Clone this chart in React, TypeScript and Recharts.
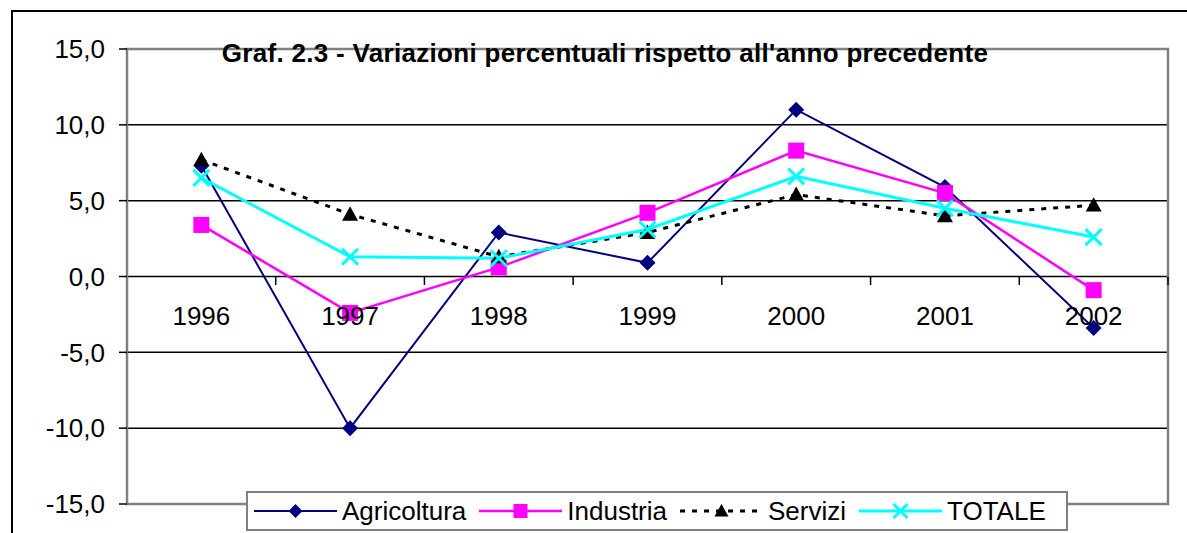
import React from 'react'
import { LineChart, Line, XAxis, YAxis, CartesianGrid, ReferenceArea } from 'recharts'

const years = ['1996', '1997', '1998', '1999', '2000', '2001', '2002']
const agricoltura = [7.3, -10.0, 2.9, 0.9, 11.0, 5.9, -3.4]
const industria = [3.4, -2.4, 0.6, 4.2, 8.3, 5.5, -0.9]
const servizi = [7.7, 4.1, 1.3, 2.9, 5.4, 4.0, 4.7]
const totale = [6.5, 1.3, 1.2, 3.1, 6.6, 4.5, 2.6]
const yTicks = [-15, -10, -5, 0, 5, 10, 15]

const W = 1187
const H = 533
const M = { top: 49, right: 19, bottom: 28, left: 17 }
const Y_AXIS_W = 110
const PLOT_W = W - M.left - M.right - Y_AXIS_W
const PLOT_H = H - M.top - M.bottom
const Y_MIN = -15
const Y_MAX = 15
const zeroY = M.top + (PLOT_H * (Y_MAX - 0)) / (Y_MAX - Y_MIN)
const band = PLOT_W / years.length

const FONT = '"Liberation Sans", Arial, sans-serif'

const data = years.map((y, i) => ({
  year: y,
  agricoltura: agricoltura[i],
  industria: industria[i],
  servizi: servizi[i],
  totale: totale[i],
}))

const fmt = (v: number) => v.toFixed(1).replace('.', ',')

const Diamond = ({ cx, cy, s = 8 }: any) => (
  <path d={`M${cx},${cy - s} L${cx + s},${cy} L${cx},${cy + s} L${cx - s},${cy} Z`} fill="#000080" />
)
const Square = ({ cx, cy, s = 8 }: any) => (
  <rect x={cx - s} y={cy - s} width={s * 2} height={s * 2} fill="#FF00FF" />
)
const Triangle = ({ cx, cy, s = 8 }: any) => (
  <path d={`M${cx},${cy - s} L${cx + s},${cy + s * 0.8} L${cx - s},${cy + s * 0.8} Z`} fill="#000" />
)
const Cross = ({ cx, cy, s = 8 }: any) => (
  <g stroke="#00FFFF" strokeWidth={3}>
    <line x1={cx - s} y1={cy - s} x2={cx + s} y2={cy + s} />
    <line x1={cx - s} y1={cy + s} x2={cx + s} y2={cy - s} />
  </g>
)

// category labels sit under the zero line, with ticks between the categories
const XTick = (props: any) => {
  const { x, payload } = props
  return (
    <g>
      <line x1={x + band / 2} y1={zeroY} x2={x + band / 2} y2={zeroY + 8} stroke="#000" strokeWidth={1.5} />
      <text x={x} y={zeroY + 39} textAnchor="middle" dominantBaseline="central" fontSize={26} fontFamily={FONT} fill="#000">
        {payload.value}
      </text>
    </g>
  )
}

const series = [
  { key: 'agricoltura', name: 'Agricoltura', color: '#000080', width: 2, dash: undefined, Mark: Diamond },
  { key: 'industria', name: 'Industria', color: '#FF00FF', width: 2.5, dash: undefined, Mark: Square },
  { key: 'servizi', name: 'Servizi', color: '#000000', width: 3, dash: '5 7', Mark: Triangle },
  { key: 'totale', name: 'TOTALE', color: '#00FFFF', width: 3, dash: undefined, Mark: Cross },
]

function LegendBox() {
  return (
    <div
      style={{
        position: 'absolute', left: 246, top: 491, width: 818, height: 36,
        border: '2px solid #808080', background: '#fff', display: 'flex', alignItems: 'center',
        fontFamily: FONT, fontSize: 26, color: '#000', boxSizing: 'content-box',
      }}
    >
      {series.map((s, i) => (
        <div key={s.key} style={{ display: 'flex', alignItems: 'center', marginLeft: i === 0 ? 6 : 13 }}>
          <svg width={83} height={20} style={{ display: 'block' }}>
            <line x1={0} y1={10} x2={83} y2={10} stroke={s.color} strokeWidth={s.width} strokeDasharray={s.dash} />
            <s.Mark cx={41.5} cy={10} s={7} />
          </svg>
          <span style={{ marginLeft: 5, lineHeight: '26px' }}>{s.name}</span>
        </div>
      ))}
    </div>
  )
}

export default function App() {
  return (
    <div style={{ position: 'absolute', left: 0, top: 0, width: W, height: H, background: '#fff', overflow: 'hidden' }}>
      <div style={{ position: 'absolute', left: 11, top: 10, width: W - 11, height: H - 10, borderTop: '2px solid #000', borderLeft: '2px solid #000', boxSizing: 'border-box' }} />
      <LineChart width={W} height={H} data={data} margin={M} style={{ position: 'absolute', left: 0, top: 0 }}>
        <CartesianGrid vertical={false} stroke="#000" strokeWidth={1.5} />
        <XAxis
          dataKey="year"
          axisLine={false}
          tickLine={false}
          height={1}
          tick={<XTick />}
          interval={0}
          padding={{ left: band / 2, right: band / 2 }}
        />
        {/* hidden unpadded axis, used only to frame the whole plot area */}
        <XAxis xAxisId="frame" dataKey="year" hide />
        <YAxis
          width={Y_AXIS_W}
          domain={[Y_MIN, Y_MAX]}
          ticks={yTicks}
          tickFormatter={fmt}
          axisLine={false}
          tickLine={{ stroke: '#000', strokeWidth: 1.5 }}
          tickSize={8}
          tickMargin={14}
          tick={{ fontSize: 26, fontFamily: FONT, fill: '#000' }}
        />
        <ReferenceArea xAxisId="frame" y1={Y_MIN} y2={Y_MAX} fill="none" stroke="#808080" strokeWidth={2.5} ifOverflow="visible" />
        {series.map(s => (
          <Line
            key={s.key}
            type="linear"
            dataKey={s.key}
            name={s.name}
            stroke={s.color}
            strokeWidth={s.width}
            strokeDasharray={s.dash}
            isAnimationActive={false}
            dot={(p: any) => <s.Mark key={p.index} cx={p.cx} cy={p.cy} />}
            activeDot={false}
          />
        ))}
      </LineChart>
      <div
        style={{
          position: 'absolute', left: 0, top: 40, width: 1210, textAlign: 'center',
          fontFamily: FONT, fontWeight: 'bold', fontSize: 26, letterSpacing: 0.3, lineHeight: '26px', color: '#000', whiteSpace: 'nowrap',
        }}
      >
        Graf. 2.3 - Variazioni percentuali rispetto all'anno precedente
      </div>
      <LegendBox />
    </div>
  )
}
